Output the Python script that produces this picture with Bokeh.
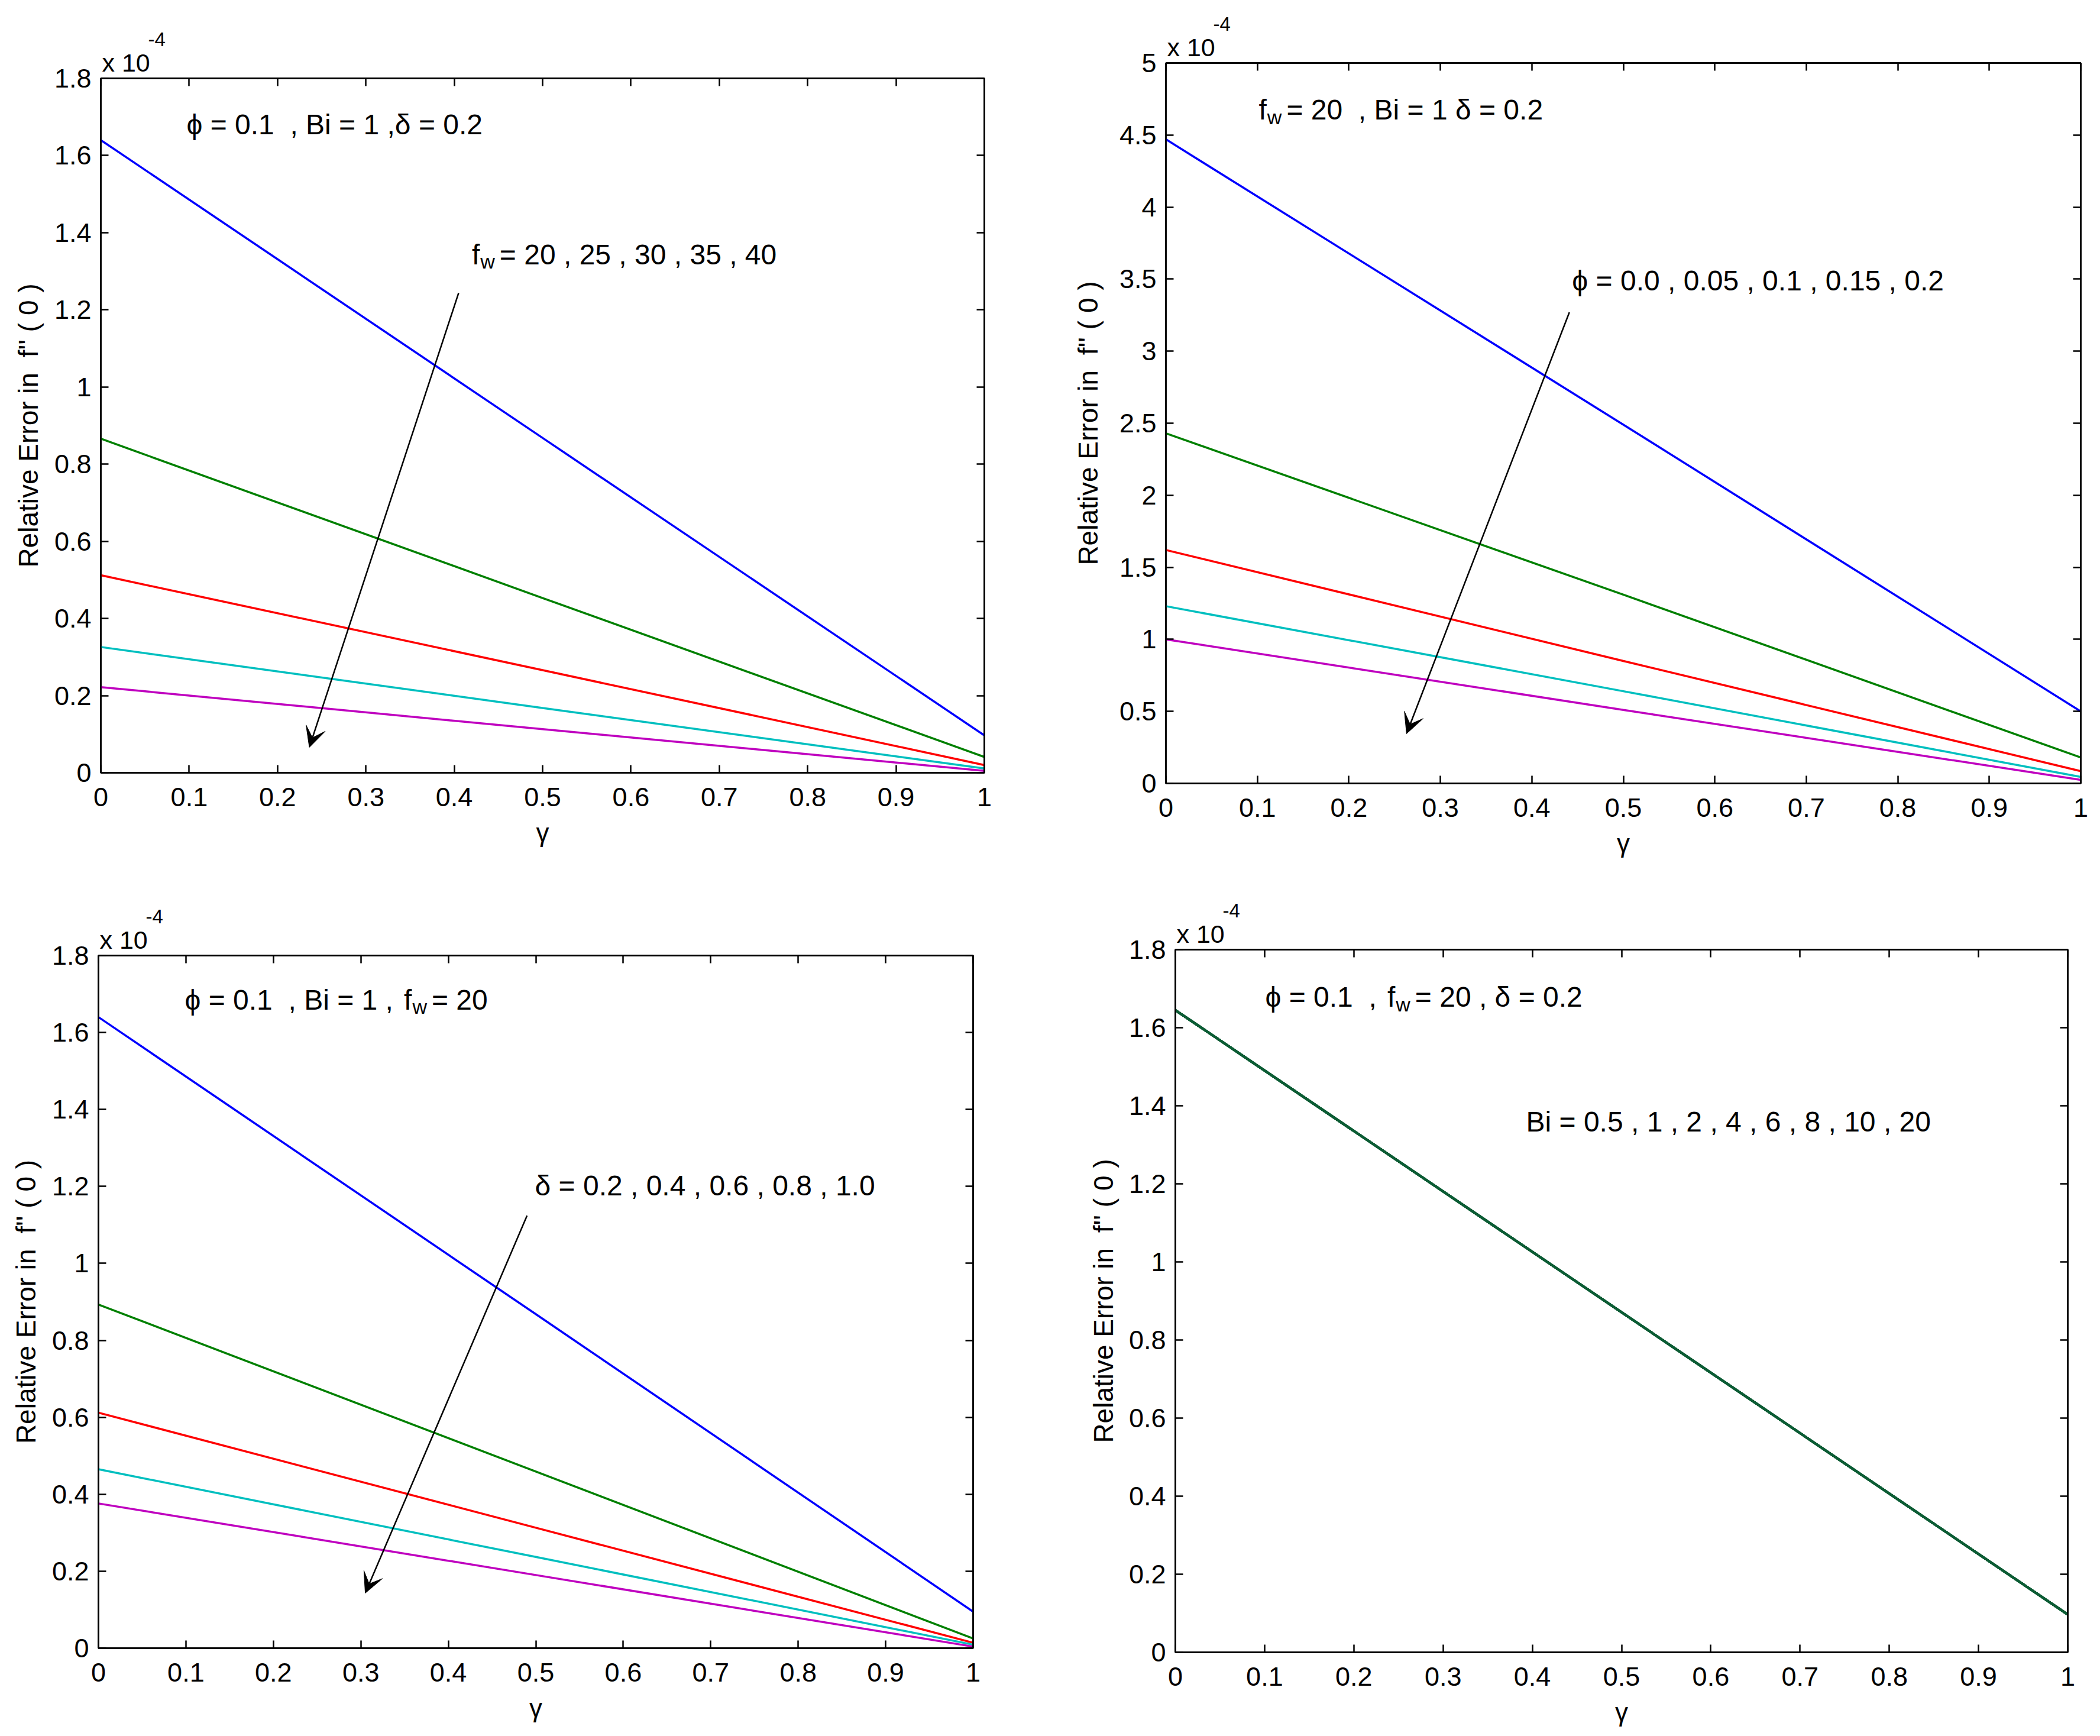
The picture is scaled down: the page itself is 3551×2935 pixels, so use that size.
from bokeh.plotting import figure
from bokeh.models import Range1d, Label, Arrow, VeeHead, LinearAxis, FixedTicker, Title, Spacer
from bokeh.layouts import column, row
from bokeh.embed import file_html
from bokeh.resources import INLINE

# ---------------- data ----------------
gamma = [0.0, 0.5, 1.0]

x_ticks = [0, 0.1, 0.2, 0.3, 0.4, 0.5, 0.6, 0.7, 0.8, 0.9, 1]
x_tick_labels = ["0", "0.1", "0.2", "0.3", "0.4", "0.5", "0.6", "0.7", "0.8", "0.9", "1"]
y_ticks_18 = [0, 0.2, 0.4, 0.6, 0.8, 1, 1.2, 1.4, 1.6, 1.8]
y_tick_labels_18 = ["0", "0.2", "0.4", "0.6", "0.8", "1", "1.2", "1.4", "1.6", "1.8"]
y_ticks_5 = [0, 0.5, 1, 1.5, 2, 2.5, 3, 3.5, 4, 4.5, 5]
y_tick_labels_5 = ["0", "0.5", "1", "1.5", "2", "2.5", "3", "3.5", "4", "4.5", "5"]

# panel 1: f_w = 20, 25, 30, 35, 40  (phi=0.1, Bi=1, delta=0.2)
p1_fw20 = [1.640, 0.868, 0.097]
p1_fw25 = [0.866, 0.453, 0.041]
p1_fw30 = [0.512, 0.266, 0.020]
p1_fw35 = [0.326, 0.168, 0.011]
p1_fw40 = [0.222, 0.113, 0.005]

# panel 2: phi = 0.0, 0.05, 0.1, 0.15, 0.2  (f_w=20, Bi=1, delta=0.2)
p2_phi000 = [4.47, 2.49, 0.50]
p2_phi005 = [2.43, 1.31, 0.18]
p2_phi010 = [1.62, 0.85, 0.085]
p2_phi015 = [1.23, 0.64, 0.045]
p2_phi020 = [1.00, 0.51, 0.025]

# panel 3: delta = 0.2, 0.4, 0.6, 0.8, 1.0  (phi=0.1, Bi=1, f_w=20)
p3_d02 = [1.640, 0.868, 0.095]
p3_d04 = [0.893, 0.459, 0.025]
p3_d06 = [0.612, 0.313, 0.014]
p3_d08 = [0.465, 0.237, 0.009]
p3_d10 = [0.376, 0.190, 0.004]

# panel 4: Bi = 0.5, 1, 2, 4, 6, 8, 10, 20  (phi=0.1, f_w=20, delta=0.2)
p4_bi05 = [1.645, 0.871, 0.097]
p4_bi1 = [1.645, 0.871, 0.097]
p4_bi2 = [1.645, 0.871, 0.097]
p4_bi4 = [1.645, 0.871, 0.097]
p4_bi6 = [1.645, 0.871, 0.097]
p4_bi8 = [1.645, 0.871, 0.097]
p4_bi10 = [1.645, 0.871, 0.097]
p4_bi20 = [1.645, 0.871, 0.097]

colors5 = ["#0000ff", "#008000", "#ff0000", "#00bfbf", "#bf00bf"]
color_p4 = "#0b5c34"

FONT = "Liberation Sans"
TICK_SIZE = "45px"
ANN_SIZE = 48
SUB_SIZE = 34
LABEL_DY = 22
NB = "\u00a0"
YLABEL = "Relative Error in" + NB + NB + "f'' ( 0 )"

CW = {' ': 278, NB: 278, ',': 278, '.': 278, '=': 584, 'B': 667, 'i': 222, 'f': 278,
      'w': 722, '\u03d5': 660, '\u03b4': 556}


def text_w(s, size):
    return sum(CW.get(c, 556) for c in s) * size / 1000.0


def style_axis(ax, ticks, labels, show, standoff=18):
    ax.ticker = FixedTicker(ticks=ticks)
    ax.major_tick_in = 13
    ax.major_tick_out = 0
    ax.minor_tick_line_color = None
    ax.major_tick_line_color = "black"
    ax.major_tick_line_width = 2.5
    ax.axis_line_color = "black"
    ax.axis_line_width = 2.5
    ax.major_label_text_font = FONT
    if show:
        ax.major_label_overrides = {t: l for t, l in zip(ticks, labels)}
        ax.major_label_text_color = "black"
        ax.major_label_text_font_size = TICK_SIZE
        ax.major_label_standoff = standoff
    else:
        # tick marks only (mirrored box ticks), no labels drawn
        ax.major_label_text_color = None
        ax.major_label_text_alpha = 0
        ax.major_label_text_font_size = "0px"
        ax.major_label_standoff = 0


def make_fig(fw, fh, bl, br, bt, bb, ymax, yticks, ylabels, ylabel_standoff):
    p = figure(frame_width=fw, frame_height=fh,
               min_border_left=bl, min_border_right=br,
               min_border_top=bt, min_border_bottom=bb,
               x_range=Range1d(0, 1), y_range=Range1d(0, ymax),
               title=None,
               output_backend="svg", toolbar_location=None, tools="")
    p.grid.visible = False
    p.outline_line_color = "black"
    p.outline_line_width = 2.5
    p.background_fill_color = "white"
    p.border_fill_color = "white"
    xa = p.below[0]
    ya = p.left[0]
    style_axis(xa, x_ticks, x_tick_labels, True, standoff=25)
    style_axis(ya, yticks, ylabels, True, standoff=16)
    top = LinearAxis()
    style_axis(top, x_ticks, x_tick_labels, False)
    right = LinearAxis()
    style_axis(right, yticks, ylabels, False)
    p.add_layout(top, "above")
    p.add_layout(right, "right")
    # exponent marker "x 10^-4" above the frame
    p.add_layout(Title(text="x 10", align="left", offset=2, standoff=5,
                       text_font=FONT, text_font_size="43px",
                       text_font_style="normal", text_color="black"), "above")
    p.add_layout(Title(text="-4", align="left", offset=80, standoff=0,
                       text_font=FONT, text_font_size="33px",
                       text_font_style="normal", text_color="black"), "above")
    ya.axis_label = YLABEL
    ya.axis_label_text_font = FONT
    ya.axis_label_text_font_size = "46px"
    ya.axis_label_text_font_style = "normal"
    ya.axis_label_text_color = "black"
    ya.axis_label_standoff = ylabel_standoff
    xa.axis_label = "\u03b3"
    xa.axis_label_text_font = FONT
    xa.axis_label_text_font_size = "44px"
    xa.axis_label_text_font_style = "normal"
    xa.axis_label_text_color = "black"
    xa.axis_label_standoff = 17
    return p


def add_text(p, x, y, txt, size=ANN_SIZE, dx=0, dy=0):
    p.add_layout(Label(x=x, y=y, text=txt, x_offset=dx, y_offset=dy + LABEL_DY,
                       text_font=FONT, text_font_size=f"{size}px",
                       text_color="black", text_align="left",
                       text_baseline="alphabetic"))


def add_segments(p, x, y, parts):
    """parts: list of (text, is_subscript)"""
    dx = 0.0
    for txt, sub in parts:
        if sub:
            add_text(p, x, y, txt, size=SUB_SIZE, dx=dx + 1, dy=-12)
            dx += text_w(txt, SUB_SIZE) + 9
        else:
            add_text(p, x, y, txt, size=ANN_SIZE, dx=dx)
            dx += text_w(txt, ANN_SIZE)


def add_arrow(p, xs, ys, xe, ye):
    p.add_layout(Arrow(end=VeeHead(size=34, fill_color="black", line_color="black", line_width=1),
                       x_start=xs, y_start=ys, x_end=xe, y_end=ye,
                       line_color="black", line_width=2.5))


# ---------------- panel 1 ----------------
p1 = make_fig(1494, 1174, 162, 136, 98, 174, 1.8, y_ticks_18, y_tick_labels_18, 15)
for ys, c in zip([p1_fw20, p1_fw25, p1_fw30, p1_fw35, p1_fw40], colors5):
    p1.line(gamma, ys, line_color=c, line_width=3.5)
add_text(p1, 0.097, 1.646, "\u03d5 = 0.1" + NB + NB + ", Bi = 1 ,\u03b4 = 0.2")
add_segments(p1, 0.420, 1.310, [("f", False), ("w", True), ("= 20 , 25 , 30 , 35 , 40", False)])
add_arrow(p1, 0.405, 1.244, 0.236, 0.066)

# ---------------- panel 2 ----------------
p2 = make_fig(1547, 1218, 171, 22, 98, 156, 5, y_ticks_5, y_tick_labels_5, 24)
for ys, c in zip([p2_phi000, p2_phi005, p2_phi010, p2_phi015, p2_phi020], colors5):
    p2.line(gamma, ys, line_color=c, line_width=3.5)
add_segments(p2, 0.1015, 4.585, [("f", False), ("w", True), ("= 20" + NB + NB + ", Bi = 1 \u03b4 = 0.2", False)])
add_text(p2, 0.444, 3.40, "\u03d5 = 0.0 , 0.05 , 0.1 , 0.15 , 0.2")
add_arrow(p2, 0.441, 3.27, 0.263, 0.345)

# ---------------- panel 3 ----------------
p3 = make_fig(1479, 1171, 158, 155, 125, 147, 1.8, y_ticks_18, y_tick_labels_18, 15)
for ys, c in zip([p3_d02, p3_d04, p3_d06, p3_d08, p3_d10], colors5):
    p3.line(gamma, ys, line_color=c, line_width=3.5)
add_segments(p3, 0.0987, 1.651, [("\u03d5 = 0.1" + NB + NB + ", Bi = 1 , ", False), ("f", False), ("w", True), ("= 20", False)])
add_text(p3, 0.499, 1.168, "\u03b4 = 0.2 , 0.4 , 0.6 , 0.8 , 1.0")
add_arrow(p3, 0.490, 1.124, 0.305, 0.143)

# ---------------- panel 4 ----------------
p4 = make_fig(1509, 1188, 187, 44, 125, 140, 1.8, y_ticks_18, y_tick_labels_18, 14)
for ys in [p4_bi05, p4_bi1, p4_bi2, p4_bi4, p4_bi6, p4_bi8, p4_bi10, p4_bi20]:
    p4.line(gamma, ys, line_color=color_p4, line_width=4)
add_segments(p4, 0.1007, 1.645, [("\u03d5 = 0.1" + NB + NB + ", ", False), ("f", False), ("w", True), ("= 20 , \u03b4 = 0.2", False)])
add_text(p4, 0.393, 1.326, "Bi = 0.5 , 1 , 2 , 4 , 6 , 8 , 10 , 20")

top_row = row(column(Spacer(width=10, height=26), p1), p2)
bottom_row = row(column(Spacer(width=10, height=10), p3), p4)
grid = column(top_row, bottom_row)
layout = column(Spacer(width=10, height=8), row(Spacer(width=8, height=10), grid))

open("out.html", "w").write(file_html(layout, INLINE))
